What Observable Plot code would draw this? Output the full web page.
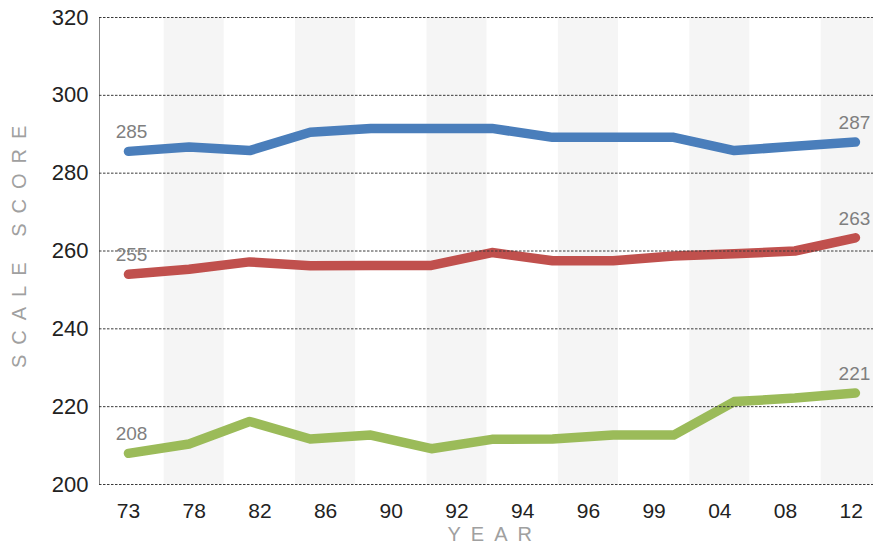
<!DOCTYPE html>
<html><head><meta charset="utf-8">
<script src="https://cdn.jsdelivr.net/npm/d3@7"></script>
<script src="https://cdn.jsdelivr.net/npm/@observablehq/plot@0.6"></script>
<style>
html,body{margin:0;padding:0;background:#fff;overflow:hidden;}
</style></head><body><div id="chart"></div>
<script>
// ---- data ----
const yearLabels = ["73","78","82","86","90","92","94","96","99","04","08","12"];
const seriesNames = ["Age 17","Age 13","Age 9"];
const age17 = [285.6, 286.7, 285.8, 290.5, 291.5, 291.5, 291.5, 289.2, 289.2, 289.2, 285.8, 286.9, 288.0];
const age13 = [254.0, 255.3, 257.2, 256.2, 256.3, 256.3, 259.6, 257.5, 257.5, 258.7, 259.3, 260.0, 263.4];
const age9  = [208.0, 210.4, 216.2, 211.7, 212.7, 209.2, 211.6, 211.7, 212.7, 212.7, 221.3, 222.2, 223.5];
const startLabels = ["285","255","208"];
const endLabels = ["287","263","221"];
const yTicks = [200,220,240,260,280,300,320];
const xTitle = "YEAR";
const yTitle = "SCALE SCORE";

// ---- layout ----
const sampleStep = 0.922;          // spacing of the 13 samples in year-tick units
const xDomain = [-0.441, 11.339];
const bandHalf = 0.457;
const colors = ["#4a7ebb","#c0504d","#9bbb59"];

const seriesValues = [age17, age13, age9];
const points = seriesValues.flatMap((arr, s) =>
  arr.map((v, i) => ({series: seriesNames[s], x: i * sampleStep, value: v})));
const firsts = seriesValues.map((arr, s) => ({x: 0, value: arr[0], label: startLabels[s]}));
const lasts = seriesValues.map((arr, s) => ({x: (arr.length - 1) * sampleStep, value: arr[arr.length - 1], label: endLabels[s]}));
const tickIdx = yearLabels.map((d, i) => i);
const bands = tickIdx.filter(i => i % 2 === 1);

const chart = Plot.plot({
  width: 873, height: 551,
  marginLeft: 99, marginRight: 0, marginTop: 17, marginBottom: 67,
  style: {fontFamily: "'Liberation Sans', Arial, sans-serif", background: "#fff", overflow: "hidden"},
  x: {type: "linear", domain: xDomain},
  y: {domain: [200, 320]},
  color: {domain: seriesNames, range: colors},
  marks: [
    Plot.rect(bands, {x1: i => i - bandHalf, x2: i => i + bandHalf, fill: "#f5f5f5"}),
    Plot.ruleX([xDomain[0]], {stroke: "#878787", strokeWidth: 1}),
    Plot.line(points, {x: "x", y: "value", z: "series", stroke: "series", strokeWidth: 9.5,
      strokeLinecap: "round", strokeLinejoin: "round"}),
    Plot.gridY(yTicks, {stroke: "#3a3a3a", strokeOpacity: 1, strokeDasharray: "2.5,1.5"}),
    Plot.axisY(yTicks, {tickSize: 0, tickPadding: 11, fontSize: 22, color: "#222", label: null}),
    Plot.axisX(tickIdx, {tickSize: 0, tickPadding: 19, fontSize: 21, color: "#222",
      tickFormat: i => yearLabels[i], label: null}),
    Plot.text(firsts, {x: "x", y: "value", text: "label", dx: 3, dy: -13, lineAnchor: "bottom",
      fill: "#7f7f7f", fontSize: 19}),
    Plot.text(lasts, {x: "x", y: "value", text: "label", dx: -1, dy: -13, lineAnchor: "bottom",
      fill: "#7f7f7f", fontSize: 19}),
    Plot.text([yTitle], {frameAnchor: "left", rotate: -90, textAnchor: "start", dx: -79.5, dy: 117,
      fill: "#a0a0a0", fontSize: 20}),
    Plot.text([xTitle], {frameAnchor: "bottom", textAnchor: "start", dx: -39, dy: 56,
      fill: "#a0a0a0", fontSize: 20})
  ]
});
d3.select(chart).selectAll("text")
  .filter(function () { return this.textContent === xTitle || this.textContent === yTitle; })
  .style("letter-spacing", "10px");
document.getElementById("chart").appendChild(chart);
</script>
</body></html>
